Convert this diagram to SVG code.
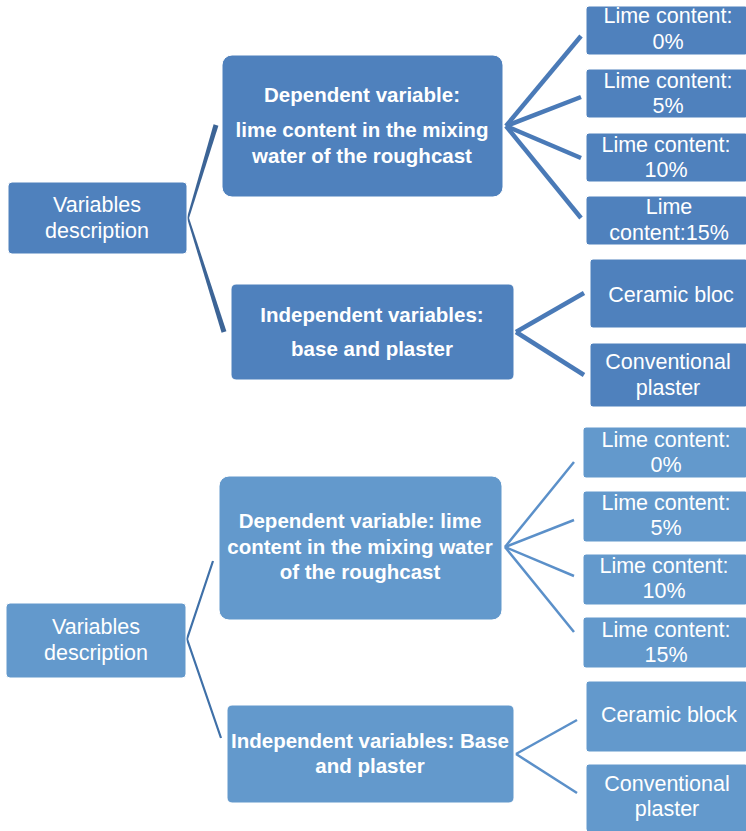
<svg xmlns="http://www.w3.org/2000/svg" width="746" height="831" viewBox="0 0 746 831">
  <style>
    .b1 { fill: #4f81bd; stroke: #ffffff; stroke-width: 1; }
    .b2 { fill: #6399cc; stroke: #ffffff; stroke-width: 1; }
    .t { font-family: "Liberation Sans", Arial, sans-serif; font-size: 21.5px; fill: #ffffff; text-anchor: middle; }
    .tb { font-family: "Liberation Sans", Arial, sans-serif; font-size: 20.5px; font-weight: bold; fill: #ffffff; text-anchor: middle; }
    .fan1 { stroke: #4a7ab7; stroke-width: 4.5; fill: none; stroke-linecap: butt; }
    .root2 { stroke: #3f70a8; stroke-width: 2.2; fill: none; }
    .fan2 { stroke: #5b90c9; stroke-width: 2.5; fill: none; }
  </style>

  <!-- connectors -->
  <g id="connectors">
    <!-- upper hierarchy: tapered links from the root -->
    <polygon points="187.0,217.7 189.0,218.3 218.4,125.7 213.6,124.3" fill="#3c6496"/>
    <polygon points="187.05,218.3 188.95,217.7 226.4,331.25 221.6,332.75" fill="#3c6496"/>
    <line class="fan1" x1="506" y1="126" x2="581" y2="36"/>
    <line class="fan1" x1="506" y1="126" x2="581" y2="97"/>
    <line class="fan1" x1="506" y1="126" x2="581" y2="158"/>
    <line class="fan1" x1="506" y1="126" x2="581" y2="218"/>
    <line class="fan1" x1="516" y1="332" x2="584" y2="293"/>
    <line class="fan1" x1="516" y1="332" x2="584" y2="375"/>

    <!-- lower hierarchy -->
    <polyline class="root2" points="213,561 187,639 221,738"/>
    <line class="fan2" x1="505" y1="547" x2="574" y2="462"/>
    <line class="fan2" x1="505" y1="547" x2="574" y2="520"/>
    <line class="fan2" x1="505" y1="547" x2="574" y2="576"/>
    <line class="fan2" x1="505" y1="547" x2="574" y2="632"/>
    <line class="fan2" x1="516" y1="754" x2="577" y2="720"/>
    <line class="fan2" x1="516" y1="754" x2="577" y2="793"/>
  </g>

  <!-- upper hierarchy nodes -->
  <g id="root-a">
    <rect class="b1" x="8" y="182" width="179" height="72" rx="4"/>
    <text class="t" x="97" y="212">Variables</text>
    <text class="t" x="97" y="238">description</text>
  </g>
  <g id="dep-a">
    <rect class="b1" x="222" y="55" width="281" height="142" rx="10"/>
    <text class="tb" x="362" y="102">Dependent variable:</text>
    <text class="tb" x="362" y="137">lime content in the mixing</text>
    <text class="tb" x="362" y="163">water of the roughcast</text>
  </g>
  <g id="ind-a">
    <rect class="b1" x="231" y="284" width="283" height="96" rx="5"/>
    <text class="tb" x="372" y="322">Independent variables:</text>
    <text class="tb" x="372" y="356">base and plaster</text>
  </g>
  <g id="lime0-a">
    <rect class="b1" x="586" y="6" width="162" height="49" rx="3"/>
    <text class="t" x="668" y="23">Lime content:</text>
    <text class="t" x="668" y="49">0%</text>
  </g>
  <g id="lime5-a">
    <rect class="b1" x="586" y="69" width="162" height="49" rx="3"/>
    <text class="t" x="668" y="88">Lime content:</text>
    <text class="t" x="668" y="113">5%</text>
  </g>
  <g id="lime10-a">
    <rect class="b1" x="586" y="133" width="162" height="49" rx="3"/>
    <text class="t" x="666" y="152">Lime content:</text>
    <text class="t" x="666" y="177">10%</text>
  </g>
  <g id="lime15-a">
    <rect class="b1" x="586" y="196" width="162" height="49" rx="3"/>
    <text class="t" x="669" y="214">Lime</text>
    <text class="t" x="669" y="240">content:15%</text>
  </g>
  <g id="ceramic-a">
    <rect class="b1" x="590" y="259" width="158" height="69" rx="3"/>
    <text class="t" x="671" y="302">Ceramic bloc</text>
  </g>
  <g id="plaster-a">
    <rect class="b1" x="590" y="343" width="158" height="64" rx="3"/>
    <text class="t" x="668" y="369">Conventional</text>
    <text class="t" x="668" y="395">plaster</text>
  </g>

  <!-- lower hierarchy nodes -->
  <g id="root-b">
    <rect class="b2" x="6" y="603" width="180" height="75" rx="4"/>
    <text class="t" x="96" y="634">Variables</text>
    <text class="t" x="96" y="660">description</text>
  </g>
  <g id="dep-b">
    <rect class="b2" x="219" y="476" width="283" height="144" rx="10"/>
    <text class="tb" x="360" y="528">Dependent variable: lime</text>
    <text class="tb" x="360" y="554">content in the mixing water</text>
    <text class="tb" x="360" y="579">of the roughcast</text>
  </g>
  <g id="ind-b">
    <rect class="b2" x="227" y="705" width="287" height="98" rx="5"/>
    <text class="tb" x="370" y="748">Independent variables: Base</text>
    <text class="tb" x="370" y="773">and plaster</text>
  </g>
  <g id="lime0-b">
    <rect class="b2" x="583" y="427" width="165" height="51" rx="3"/>
    <text class="t" x="666" y="447">Lime content:</text>
    <text class="t" x="666" y="472">0%</text>
  </g>
  <g id="lime5-b">
    <rect class="b2" x="583" y="491" width="165" height="51" rx="3"/>
    <text class="t" x="666" y="510">Lime content:</text>
    <text class="t" x="666" y="535">5%</text>
  </g>
  <g id="lime10-b">
    <rect class="b2" x="583" y="554" width="165" height="51" rx="3"/>
    <text class="t" x="664" y="573">Lime content:</text>
    <text class="t" x="664" y="598">10%</text>
  </g>
  <g id="lime15-b">
    <rect class="b2" x="583" y="617" width="165" height="51" rx="3"/>
    <text class="t" x="666" y="637">Lime content:</text>
    <text class="t" x="666" y="662">15%</text>
  </g>
  <g id="ceramic-b">
    <rect class="b2" x="586" y="681" width="162" height="71" rx="3"/>
    <text class="t" x="669" y="722">Ceramic block</text>
  </g>
  <g id="plaster-b">
    <rect class="b2" x="586" y="764" width="162" height="68" rx="3"/>
    <text class="t" x="667" y="791">Conventional</text>
    <text class="t" x="667" y="816">plaster</text>
  </g>
</svg>
